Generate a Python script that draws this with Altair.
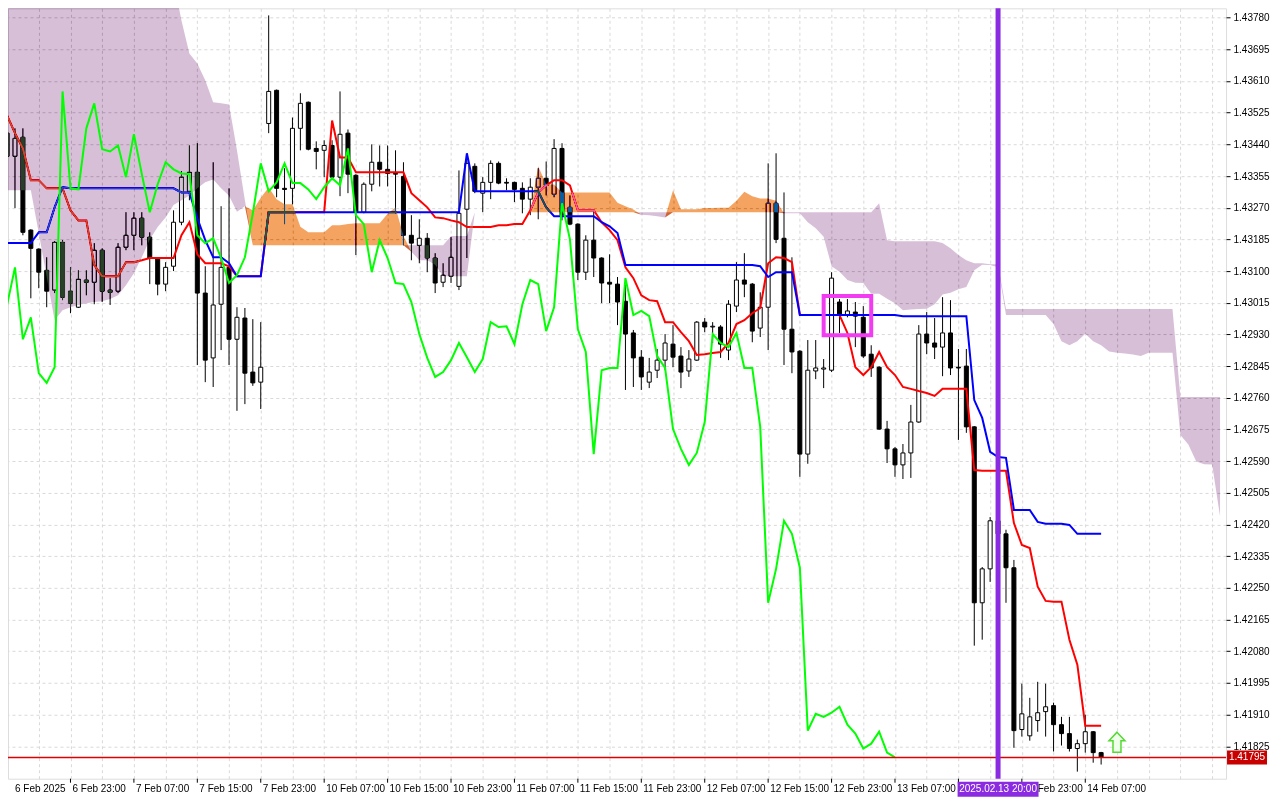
import altair as alt
import pandas as pd

# ---------------- data (H1 bars, index 0 = 6 Feb 2025 15:00) ----------------
opens = [1.43470, 1.43408, 1.43459, 1.43210, 1.43159, 1.43102, 1.43049, 1.43177, 1.43046, 1.43003,
         1.43076, 1.43070, 1.43156, 1.43049, 1.43046, 1.43164, 1.43196, 1.43242, 1.43191, 1.43135,
         1.43065, 1.43113, 1.43231, 1.43314, 1.43365, 1.43041, 1.42867, 1.43011, 1.43110, 1.42917,
         1.42974, 1.42829, 1.42802, 1.43496, 1.43585, 1.43322, 1.43322, 1.43483, 1.43553, 1.43429,
         1.43424, 1.43437, 1.43352, 1.43470, 1.43357, 1.43258, 1.43333, 1.43392, 1.43373, 1.43362,
         1.43354, 1.43196, 1.43169, 1.43188, 1.43135, 1.43070, 1.43086, 1.43059, 1.43266, 1.43381,
         1.43309, 1.43338, 1.43389, 1.43338, 1.43338, 1.43322, 1.43293, 1.43325, 1.43349, 1.43306,
         1.43429, 1.43271, 1.43226, 1.43097, 1.43183, 1.43135, 1.43070, 1.43065, 1.43019, 1.42934,
         1.42869, 1.42802, 1.42834, 1.42861, 1.42904, 1.42872, 1.42832, 1.42861, 1.42963, 1.42950,
         1.42950, 1.42888, 1.43006, 1.43076, 1.43065, 1.42947, 1.43003, 1.43282, 1.43188, 1.42944,
         1.42885, 1.42609, 1.42832, 1.42837, 1.42834, 1.43017, 1.42982, 1.42990, 1.42976, 1.42877,
         1.42842, 1.42676, 1.42623, 1.42580, 1.42612, 1.42695, 1.42931, 1.42907, 1.42896, 1.42934,
         1.42842, 1.42845, 1.42682, 1.42210, 1.42301, 1.42430, 1.42395, 1.42304, 1.41870, 1.41853,
         1.41894, 1.41918, 1.41934, 1.41883, 1.41859, 1.41819, 1.41832, 1.41864, 1.41808]

highs = [1.43478, 1.43483, 1.43483, 1.43212, 1.43161, 1.43137, 1.43180, 1.43183, 1.43110, 1.43102,
         1.43102, 1.43175, 1.43161, 1.43081, 1.43175, 1.43258, 1.43258, 1.43258, 1.43204, 1.43137,
         1.43124, 1.43263, 1.43368, 1.43437, 1.43443, 1.43113, 1.43392, 1.43274, 1.43322, 1.43003,
         1.43001, 1.42971, 1.42963, 1.43786, 1.43587, 1.43376, 1.43512, 1.43577, 1.43555, 1.43448,
         1.43451, 1.43451, 1.43582, 1.43480, 1.43360, 1.43338, 1.43440, 1.43437, 1.43437, 1.43424,
         1.43392, 1.43250, 1.43239, 1.43202, 1.43148, 1.43121, 1.43191, 1.43370, 1.43405, 1.43389,
         1.43352, 1.43397, 1.43394, 1.43349, 1.43340, 1.43338, 1.43349, 1.43376, 1.43394, 1.43454,
         1.43443, 1.43303, 1.43228, 1.43196, 1.43261, 1.43137, 1.43145, 1.43084, 1.43078, 1.42942,
         1.42888, 1.42867, 1.42891, 1.42931, 1.42955, 1.42896, 1.42888, 1.42966, 1.42974, 1.42963,
         1.42955, 1.43022, 1.43124, 1.43148, 1.43068, 1.43043, 1.43389, 1.43416, 1.43311, 1.43137,
         1.42888, 1.42915, 1.42915, 1.42864, 1.43097, 1.43025, 1.43025, 1.43017, 1.43006, 1.42901,
         1.42845, 1.42698, 1.42628, 1.42636, 1.42741, 1.42955, 1.42990, 1.42974, 1.43030, 1.43022,
         1.42891, 1.42891, 1.42684, 1.42306, 1.42440, 1.42445, 1.42406, 1.42325, 1.41993, 1.41955,
         1.41998, 1.41993, 1.41942, 1.41904, 1.41904, 1.41843, 1.41910, 1.41866, 1.41810]

lows = [1.43397, 1.43269, 1.43196, 1.43027, 1.43054, 1.43003, 1.43041, 1.43022, 1.42987, 1.43001,
        1.43035, 1.43011, 1.43017, 1.43009, 1.43041, 1.43156, 1.43156, 1.43169, 1.43065, 1.43035,
        1.43046, 1.43100, 1.43223, 1.43290, 1.42848, 1.42802, 1.42789, 1.42888, 1.42848, 1.42725,
        1.42743, 1.42792, 1.42730, 1.43470, 1.43298, 1.43226, 1.43279, 1.43424, 1.43424, 1.43373,
        1.43352, 1.43344, 1.43301, 1.43309, 1.43143, 1.43255, 1.43314, 1.43327, 1.43327, 1.43255,
        1.43169, 1.43129, 1.43121, 1.43097, 1.43041, 1.43057, 1.43068, 1.43049, 1.43135, 1.43309,
        1.43258, 1.43293, 1.43333, 1.43317, 1.43285, 1.43255, 1.43250, 1.43239, 1.43303, 1.43298,
        1.43236, 1.43223, 1.43076, 1.43076, 1.43084, 1.43014, 1.43014, 1.42955, 1.42781, 1.42789,
        1.42781, 1.42786, 1.42813, 1.42834, 1.42842, 1.42786, 1.42816, 1.42859, 1.42936, 1.42907,
        1.42867, 1.42861, 1.42990, 1.43030, 1.42909, 1.42923, 1.42888, 1.43175, 1.42848, 1.42826,
        1.42548, 1.42583, 1.42810, 1.42786, 1.42829, 1.42934, 1.42976, 1.42896, 1.42867, 1.42816,
        1.42674, 1.42585, 1.42548, 1.42542, 1.42545, 1.42693, 1.42877, 1.42864, 1.42818, 1.42821,
        1.42647, 1.42666, 1.42095, 1.42111, 1.42266, 1.42370, 1.42210, 1.41821, 1.41851, 1.41840,
        1.41864, 1.41851, 1.41811, 1.41827, 1.41811, 1.41757, 1.41808, 1.41781, 1.41776]

closes = [1.43408, 1.43456, 1.43204, 1.43161, 1.43097, 1.43046, 1.43177, 1.43030, 1.43014, 1.43078,
          1.43070, 1.43156, 1.43046, 1.43043, 1.43164, 1.43196, 1.43242, 1.43191, 1.43135, 1.43065,
          1.43110, 1.43231, 1.43352, 1.43365, 1.43041, 1.42861, 1.43009, 1.43110, 1.42917, 1.42976,
          1.42826, 1.42800, 1.42842, 1.43582, 1.43322, 1.43319, 1.43483, 1.43550, 1.43427, 1.43421,
          1.43437, 1.43352, 1.43467, 1.43360, 1.43258, 1.43333, 1.43392, 1.43373, 1.43362, 1.43360,
          1.43196, 1.43175, 1.43188, 1.43135, 1.43068, 1.43089, 1.43137, 1.43255, 1.43389, 1.43314,
          1.43338, 1.43389, 1.43336, 1.43336, 1.43319, 1.43293, 1.43325, 1.43349, 1.43330, 1.43429,
          1.43250, 1.43226, 1.43097, 1.43183, 1.43135, 1.43068, 1.43065, 1.43017, 1.42931, 1.42867,
          1.42816, 1.42829, 1.42861, 1.42907, 1.42869, 1.42829, 1.42864, 1.42963, 1.42950, 1.42952,
          1.42904, 1.43011, 1.43076, 1.43065, 1.42939, 1.43003, 1.43282, 1.43185, 1.42944, 1.42883,
          1.42609, 1.42834, 1.42840, 1.42840, 1.43081, 1.42982, 1.42993, 1.42979, 1.42872, 1.42840,
          1.42676, 1.42623, 1.42580, 1.42612, 1.42695, 1.42931, 1.42907, 1.42896, 1.42934, 1.42840,
          1.42840, 1.42682, 1.42210, 1.42301, 1.42430, 1.42395, 1.42304, 1.41867, 1.41912, 1.41904,
          1.41915, 1.41931, 1.41883, 1.41859, 1.41819, 1.41832, 1.41864, 1.41808, 1.41795]

tenkan = ([1.43518, 1.43470, 1.43429, 1.43344, 1.43344, 1.43322, 1.43322, 1.43322, 1.43263, 1.43236,
           1.43236, 1.43116, 1.43086, 1.43086, 1.43086, 1.43124, 1.43124, 1.43129, 1.43135, 1.43135,
           1.43135, 1.43135, 1.43196, 1.43231, 1.43145, 1.43121, 1.43121, 1.43121, 1.43113, 1.43086,
           1.43086, 1.43086, 1.43086]
          + [1.43258] * 8
          + [1.43504, 1.43405, 1.43405]
          + [1.43365] * 7
          + [1.43309, 1.43290, 1.43271, 1.43244, 1.43242, 1.43236, 1.43231, 1.43218, 1.43218, 1.43218,
             1.43218, 1.43223, 1.43223, 1.43226, 1.43226, 1.43263, 1.43311, 1.43330, 1.43344, 1.43344,
             1.43330, 1.43263, 1.43263, 1.43263, 1.43231, 1.43210, 1.43183, 1.43110, 1.43081, 1.43035,
             1.43022, 1.43019, 1.42963, 1.42963, 1.42936, 1.42912, 1.42875, 1.42877, 1.42880, 1.42883,
             1.42907, 1.42958, 1.42968, 1.42987, 1.43001, 1.43121, 1.43137, 1.43135, 1.43124]
          + [1.42982] * 6
          + [1.42934, 1.42842, 1.42821, 1.42842, 1.42883, 1.42842, 1.42821, 1.42789, 1.42784, 1.42778,
             1.42773, 1.42765, 1.42784, 1.42784, 1.42784, 1.42784, 1.42566, 1.42564, 1.42564, 1.42564,
             1.42564, 1.42424, 1.42365, 1.42357, 1.42253, 1.42215, 1.42213, 1.42213, 1.42111, 1.42044,
             1.41880, 1.41880, 1.41880])

kijun = ([1.43175] * 4 + [1.43204] * 2 + [1.43271, 1.43325] + [1.43322] * 14
         + [1.43311] * 2 + [1.43242, 1.43183, 1.43137, 1.43137, 1.43121] + [1.43086] * 4
         + [1.43258] * 25 + [1.43416] + [1.43314] * 9 + [1.43271] + [1.43247] * 6
         + [1.43231, 1.43220, 1.43202] + [1.43116] * 17 + [1.43113, 1.43084]
         + [1.43097] * 3 + [1.42982] * 13 + [1.42979] * 9
         + [1.42754, 1.42706, 1.42615, 1.42601, 1.42599] + [1.42459] * 3
         + [1.42427] + [1.42422] * 3 + [1.42419] + [1.42395] * 4)

# Senkou spans, already shifted 26 bars forward (index runs into the future)
span_a = ([1.43317] * 4
          + [1.43202, 1.43084, 1.42968, 1.42995, 1.43003, 1.43009, 1.43014, 1.43017, 1.43019, 1.43025,
             1.43035, 1.43062, 1.43094, 1.43137, 1.43185, 1.43218, 1.43244, 1.43277, 1.43290, 1.43303,
             1.43322, 1.43338, 1.43346, 1.43322, 1.43302, 1.43259, 1.43274, 1.43263, 1.43297, 1.43324,
             1.43293, 1.43279, 1.43279, 1.43219, 1.43204, 1.43204, 1.43204, 1.43223, 1.43223, 1.43226,
             1.43228, 1.43228, 1.43228, 1.43228, 1.43254, 1.43271, 1.43194, 1.43152, 1.43129, 1.43129,
             1.43117, 1.43086, 1.43086, 1.43086, 1.43086]
          + [1.43258] * 8
          + [1.43381, 1.43332, 1.43332]
          + [1.43311] * 7
          + [1.43283, 1.43274, 1.43265, 1.43251, 1.43250, 1.43247, 1.43244, 1.43317, 1.43266, 1.43266,
             1.43266, 1.43269, 1.43269, 1.43270, 1.43270, 1.43289, 1.43313, 1.43301, 1.43295, 1.43295,
             1.43289, 1.43255, 1.43255, 1.43255, 1.43231, 1.43215, 1.43192, 1.43113, 1.43098, 1.43076,
             1.43069, 1.43068, 1.43039, 1.43039, 1.43026, 1.43014, 1.42995, 1.42997, 1.42998, 1.42999,
             1.43011, 1.43037, 1.43042, 1.43051, 1.43057, 1.43102, 1.43117, 1.43116, 1.43110]
          + [1.42982] * 6
          + [1.42958, 1.42912, 1.42901, 1.42912, 1.42932, 1.42912, 1.42901, 1.42884, 1.42881, 1.42879,
             1.42876, 1.42872]
          + [1.42881] * 4
          + [1.42660, 1.42635, 1.42589, 1.42582, 1.42581, 1.42442])

span_b = ([1.43950] * 21
          + [1.43880, 1.43772, 1.43684, 1.43657, 1.43612, 1.43553, 1.43550, 1.43547, 1.43424, 1.43290]
          + [1.43169] * 25 + [1.43194] * 3 + [1.43258] * 51
          + [1.43282, 1.43183] + [1.43180] * 6
          + [1.43175, 1.43161, 1.43143, 1.43129, 1.43121, 1.43121, 1.43118, 1.43118]
          + [1.42998] * 22 + [1.42762] * 6)

time_ticks = [0, 8, 16, 24, 32, 40, 48, 56, 64, 72, 80, 88, 96, 104, 112, 120, 128, 136]
time_labels = ["6 Feb 2025", "6 Feb 23:00", "7 Feb 07:00", "7 Feb 15:00", "7 Feb 23:00",
               "10 Feb 07:00", "10 Feb 15:00", "10 Feb 23:00", "11 Feb 07:00", "11 Feb 15:00",
               "11 Feb 23:00", "12 Feb 07:00", "12 Feb 15:00", "12 Feb 23:00", "13 Feb 07:00",
               "", "13 Feb 23:00", "14 Feb 07:00"]   # 13 Feb 15:00 sits under the marker label
price_ticks = [1.41825, 1.41910, 1.41995, 1.42080, 1.42165, 1.42250, 1.42335, 1.42420,
               1.42505, 1.42590, 1.42675, 1.42760, 1.42845, 1.42930, 1.43015, 1.43100,
               1.43185, 1.43270, 1.43355, 1.43440, 1.43525, 1.43610, 1.43695, 1.43780]

vline_bar = [125]
vline_label = ["2025.02.13 20:00"]
box_bars = [103, 109]
box_prices = [1.42928, 1.43033]
arrow_bar = [140]
arrow_price = [1.41836]

# ---------------- chart ----------------
W, H = 1219, 771
X_MIN, X_MAX = 0.75, 153.125
Y_MIN, Y_MAX = 1.41738, 1.43805
FONT = "Liberation Sans"
GRID = "#d9d9d9"

xscale = alt.Scale(domain=[X_MIN, X_MAX], nice=False, zero=False)
yscale = alt.Scale(domain=[Y_MIN, Y_MAX], nice=False, zero=False)
xaxis = alt.Axis(values=list(range(4, 156, 4)), grid=True, gridDash=[3, 3], gridColor=GRID,
                 labels=False, ticks=False, domain=False, title=None)
yaxis = alt.Axis(orient="right", values=price_ticks, format=".5f", grid=True, gridDash=[3, 3],
                 gridColor=GRID, domain=False, ticks=True, tickSize=4, tickColor="black",
                 labelPadding=3, labelFont=FONT, labelFontSize=10, labelColor="black",
                 labelOverlap=False, labelFlush=False, title=None)


def X(f):
    return alt.X(f"{f}:Q", scale=xscale, axis=xaxis)


def Y(f):
    return alt.Y(f"{f}:Q", scale=yscale, axis=yaxis)


n = len(closes)
candles = pd.DataFrame({"i": range(n), "o": opens, "h": highs, "l": lows, "c": closes})
candles["dir"] = ["up" if c >= o else "down" for o, c in zip(opens, closes)]
tk = pd.DataFrame({"i": range(n), "t": tenkan, "k": kijun})
cloud = pd.DataFrame({"i": range(len(span_a)), "a": span_a, "b": span_b})
chik = pd.DataFrame({"i": range(n - 26), "v": closes[26:]})
last = pd.DataFrame({"p": [closes[-1]]})
vl = pd.DataFrame({"i": vline_bar, "label": vline_label})
box = pd.DataFrame({"x1": [box_bars[0]], "x2": [box_bars[1]], "y1": [box_prices[0]], "y2": [box_prices[1]]})
arrow = pd.DataFrame({"i": arrow_bar, "p": arrow_price})
tlab = pd.DataFrame({"i": time_ticks, "label": time_labels})

wicks = alt.Chart(candles).mark_rule(color="black", strokeWidth=1).encode(
    x=X("i"), y=Y("l"), y2="h")
bodies = alt.Chart(candles).mark_bar(size=4, stroke="black", strokeWidth=1).encode(
    x=X("i"), y=Y("o"), y2="c",
    fill=alt.Fill("dir:N", scale=alt.Scale(domain=["up", "down"], range=["white", "black"]), legend=None))
tenkan_l = alt.Chart(tk).mark_line(color="#FF0000", strokeWidth=2).encode(x=X("i"), y=Y("t"))
kijun_l = alt.Chart(tk).mark_line(color="#0000FF", strokeWidth=2).encode(x=X("i"), y=Y("k"))
# cloud is painted in "difference" mode (inverse colours over white give SandyBrown / Thistle)
orange = alt.Chart(cloud).transform_calculate(lo="min(datum.a, datum.b)").mark_area(
    color="#0B5B9F", blend="difference", opacity=1).encode(x=X("i"), y=Y("a"), y2="lo:Q")
thistle = alt.Chart(cloud).transform_calculate(lo="min(datum.a, datum.b)").mark_area(
    color="#274027", blend="difference", opacity=1).encode(x=X("i"), y=Y("b"), y2="lo:Q")
chikou_l = alt.Chart(chik).mark_line(color="#00FF00", strokeWidth=2).encode(x=X("i"), y=Y("v"))
price_line = alt.Chart(last).mark_rule(color="#E00000", strokeWidth=1.5, opacity=1).encode(
    y=Y("p"), x=alt.value(0), x2=alt.value(W))
vline = alt.Chart(vl).mark_rule(color="#8A2BE2", strokeWidth=5).encode(x=X("i"))
rect = alt.Chart(box).mark_rect(fillOpacity=0, stroke="#F23CF2", strokeWidth=4).encode(
    x=X("x1"), x2="x2", y=Y("y1"), y2="y2")
ARROW = "M0,-1L0.8,-0.15L0.4,-0.15L0.4,1L-0.4,1L-0.4,-0.15L-0.8,-0.15Z"
arrow_m = alt.Chart(arrow).mark_point(shape=ARROW, size=400, filled=True, fill="#EEFFEA",
                                      stroke="#55D933", strokeWidth=1.5, opacity=1).encode(
    x=X("i"), y=Y("p"))
xticks = alt.Chart(tlab).transform_filter(f"datum.i >= {X_MIN}").mark_rule(color="black").encode(
    x=X("i"), y=alt.value(H), y2=alt.value(H + 4))
xlabels = alt.Chart(tlab).transform_calculate(pos=f"max(datum.i, {X_MIN})").mark_text(
    align="left", baseline="middle", dx=2, font=FONT, fontSize=10, color="black").encode(
    x=X("pos"), y=alt.value(H + 10), text="label:N")
VBOX = "M-1,-0.185L1,-0.185L1,0.185L-1,0.185Z"
vbox = alt.Chart(vl).mark_point(shape=VBOX, size=81 * 81, filled=True, color="#8A2BE2",
                                opacity=1, strokeWidth=0).encode(x=X("i"), y=alt.value(H + 10.5))
vtext = alt.Chart(vl).mark_text(color="white", font=FONT, fontSize=10, align="center",
                                baseline="middle").encode(x=X("i"), y=alt.value(H + 10.5), text="label:N")
PBOX = "M-1,-0.35L1,-0.35L1,0.35L-1,0.35Z"
pbox = alt.Chart(last).mark_point(shape=PBOX, size=1600, filled=True, color="#C80000",
                                  opacity=1, strokeWidth=0).encode(x=alt.value(W + 21), y=Y("p"))
ptext = alt.Chart(last).mark_text(color="white", font=FONT, fontSize=10, align="center",
                                  baseline="middle").encode(
    x=alt.value(W + 21), y=Y("p"), text=alt.Text("p:Q", format=".5f"))

chart = alt.layer(
    wicks, bodies, tenkan_l, kijun_l, orange, thistle, chikou_l, price_line, vline, rect,
    arrow_m, xticks, xlabels, vbox, vtext, pbox, ptext
).properties(
    width=W, height=H,
    autosize=alt.AutoSizeParams(type="none"),
    padding={"left": 0, "top": 0, "right": 46, "bottom": 22},
).configure_view(stroke="black", strokeWidth=1).configure(background="white")

chart.save("out.html", embed_options={"renderer": "svg", "actions": False})
